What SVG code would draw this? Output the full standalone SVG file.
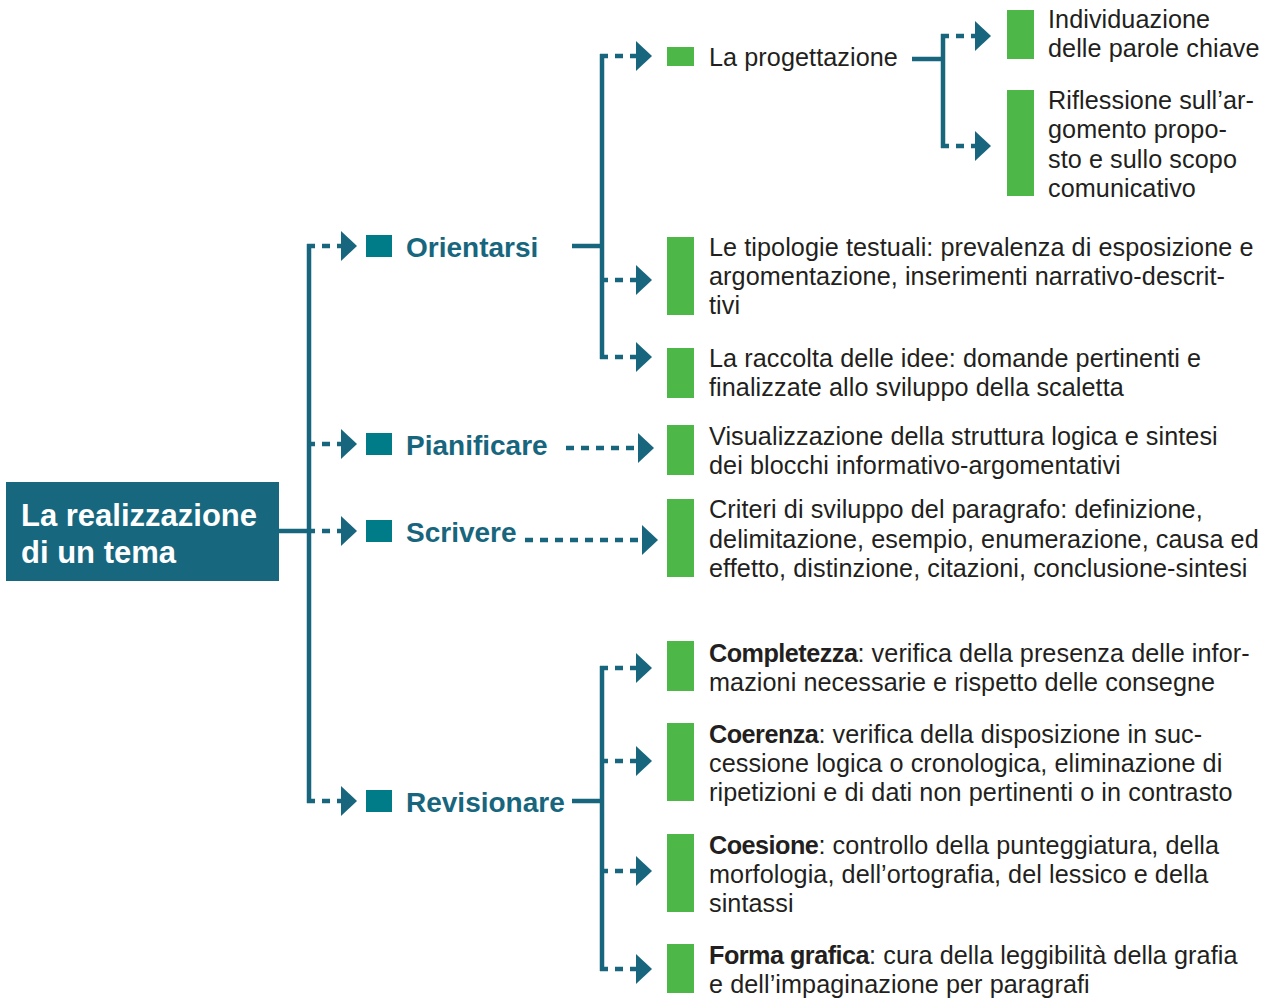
<svg xmlns="http://www.w3.org/2000/svg" width="1277" height="1000" viewBox="0 0 1277 1000">
<style>
.ln{stroke:#17667e;stroke-width:4.5;fill:none}
.ds{stroke:#17667e;stroke-width:4.5;fill:none;stroke-dasharray:8 7;marker-end:url(#ah)}
.sq{fill:#007c88}
.gb{fill:#4db748}
.br{font-family:"Liberation Sans",Arial,sans-serif;font-weight:bold;font-size:28px;fill:#17667e}
.tx{font-family:"Liberation Sans",Arial,sans-serif;font-size:25.2px;letter-spacing:0.08px;fill:#231f20}
.b{font-weight:bold;letter-spacing:-0.5px}
.rt{font-family:"Liberation Sans",Arial,sans-serif;font-weight:bold;font-size:31px;fill:#ffffff}
</style>
<defs>
<marker id="ah" markerUnits="userSpaceOnUse" markerWidth="17" markerHeight="31" refX="0" refY="15" orient="auto" viewBox="0 0 17 31">
<path d="M0,0 L16,15 L0,30 z" fill="#17667e"/>
</marker>
</defs>
<rect width="1277" height="1000" fill="#ffffff"/>
<g id="connectors">
<path class="ln" d="M279,531 H309 M309,244 V803"/>
<path class="ds" d="M307,246 H341"/>
<path class="ds" d="M307,444 H341"/>
<path class="ds" d="M307,531 H341"/>
<path class="ds" d="M307,801 H341"/>
<path class="ln" d="M572,246 H602 M602,54 V359"/>
<path class="ds" d="M600,56 H636"/>
<path class="ds" d="M600,280 H636"/>
<path class="ds" d="M600,357 H636"/>
<path class="ln" d="M912,59 H943 M943,34 V148"/>
<path class="ds" d="M941,36 H975"/>
<path class="ds" d="M941,146 H975"/>
<path class="ds" d="M566,448 H638"/>
<path class="ds" d="M525,540 H642"/>
<path class="ln" d="M572,801 H602 M602,666 V971"/>
<path class="ds" d="M600,668 H636"/>
<path class="ds" d="M600,761 H636"/>
<path class="ds" d="M600,871 H636"/>
<path class="ds" d="M600,969 H636"/>
</g>
<g id="root">
<rect x="6" y="482" width="273" height="99" fill="#17677f"/>
<text class="rt" x="21" y="526">La realizzazione</text>
<text class="rt" x="21" y="563">di un tema</text>
</g>
<g id="orientarsi">
<rect class="sq" x="366" y="235" width="26" height="22"/>
<text class="br" x="406" y="257">Orientarsi</text>
</g>
<g id="pianificare">
<rect class="sq" x="366" y="433" width="26" height="22"/>
<text class="br" x="406" y="455">Pianificare</text>
</g>
<g id="scrivere">
<rect class="sq" x="366" y="520" width="26" height="22"/>
<text class="br" x="406" y="542">Scrivere</text>
</g>
<g id="revisionare">
<rect class="sq" x="366" y="790" width="26" height="22"/>
<text class="br" x="406" y="812">Revisionare</text>
</g>
<g id="progettazione">
<rect class="gb" x="667" y="47" width="27" height="19"/>
<text class="tx" x="709" y="66">La progettazione</text>
</g>
<g id="individuazione">
<rect class="gb" x="1007" y="10" width="27" height="49"/>
<text class="tx" x="1048" y="28">Individuazione</text>
<text class="tx" x="1048" y="57">delle parole chiave</text>
</g>
<g id="riflessione">
<rect class="gb" x="1007" y="90" width="27" height="106"/>
<text class="tx" x="1048" y="109">Riflessione sull’ar-</text>
<text class="tx" x="1048" y="138">gomento propo-</text>
<text class="tx" x="1048" y="168">sto e sullo scopo</text>
<text class="tx" x="1048" y="197">comunicativo</text>
</g>
<g id="tipologie">
<rect class="gb" x="667" y="237" width="27" height="78"/>
<text class="tx" x="709" y="256">Le tipologie testuali: prevalenza di esposizione e</text>
<text class="tx" x="709" y="285">argomentazione, inserimenti narrativo-descrit-</text>
<text class="tx" x="709" y="314">tivi</text>
</g>
<g id="raccolta">
<rect class="gb" x="667" y="348" width="27" height="50"/>
<text class="tx" x="709" y="367">La raccolta delle idee: domande pertinenti e</text>
<text class="tx" x="709" y="396">finalizzate allo sviluppo della scaletta</text>
</g>
<g id="visualizzazione">
<rect class="gb" x="667" y="425" width="27" height="50"/>
<text class="tx" x="709" y="445">Visualizzazione della struttura logica e sintesi</text>
<text class="tx" x="709" y="474">dei blocchi informativo-argomentativi</text>
</g>
<g id="criteri">
<rect class="gb" x="667" y="499" width="27" height="78"/>
<text class="tx" x="709" y="518">Criteri di sviluppo del paragrafo: definizione,</text>
<text class="tx" x="709" y="548">delimitazione, esempio, enumerazione, causa ed</text>
<text class="tx" x="709" y="577">effetto, distinzione, citazioni, conclusione-sintesi</text>
</g>
<g id="completezza">
<rect class="gb" x="667" y="641" width="27" height="50"/>
<text class="tx" x="709" y="662"><tspan class="b">Completezza</tspan>: verifica della presenza delle infor-</text>
<text class="tx" x="709" y="691">mazioni necessarie e rispetto delle consegne</text>
</g>
<g id="coerenza">
<rect class="gb" x="667" y="723" width="27" height="78"/>
<text class="tx" x="709" y="743"><tspan class="b">Coerenza</tspan>: verifica della disposizione in suc-</text>
<text class="tx" x="709" y="772">cessione logica o cronologica, eliminazione di</text>
<text class="tx" x="709" y="801">ripetizioni e di dati non pertinenti o in contrasto</text>
</g>
<g id="coesione">
<rect class="gb" x="667" y="834" width="27" height="78"/>
<text class="tx" x="709" y="854"><tspan class="b">Coesione</tspan>: controllo della punteggiatura, della</text>
<text class="tx" x="709" y="883">morfologia, dell’ortografia, del lessico e della</text>
<text class="tx" x="709" y="912">sintassi</text>
</g>
<g id="forma">
<rect class="gb" x="667" y="944" width="27" height="49"/>
<text class="tx" x="709" y="964"><tspan class="b">Forma grafica</tspan>: cura della leggibilità della grafia</text>
<text class="tx" x="709" y="993">e dell’impaginazione per paragrafi</text>
</g>
</svg>
